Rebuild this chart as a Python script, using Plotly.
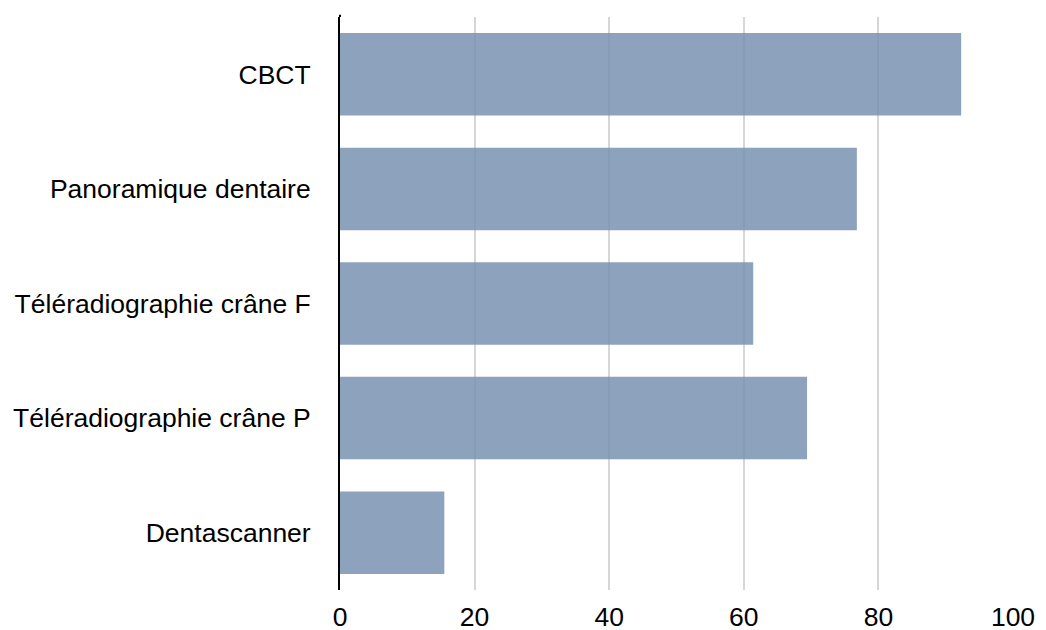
import plotly.graph_objects as go

categories = ["CBCT", "Panoramique dentaire", "Téléradiographie crâne F",
              "Téléradiographie crâne P", "Dentascanner"]
values = [92.3, 76.8, 61.4, 69.4, 15.5]
x_ticks = [0, 20, 40, 60, 80, 100]

font_family = "Helvetica, 'Liberation Sans', Arial, sans-serif"

fig = go.Figure(go.Bar(
    x=values,
    y=categories,
    orientation="h",
    marker=dict(color="rgba(121,146,176,0.85)", line=dict(width=0)),
    hoverinfo="x+y",
))

fig.update_layout(
    width=1046, height=630,
    margin=dict(l=340, r=33, t=17, b=40, autoexpand=False),
    paper_bgcolor="white", plot_bgcolor="white",
    bargap=0.28,
    showlegend=False,
    font=dict(family=font_family, size=26.5, color="black"),
)
fig.update_xaxes(
    range=[0, 100],
    tickvals=x_ticks,
    showgrid=True, gridcolor="#d6d6d6", gridwidth=1.5,
    zeroline=False, showline=False, ticks="",
    tickfont=dict(size=26.5, color="black"),
    ticklabelstandoff=8,
    automargin=False,
)
fig.update_yaxes(
    categoryorder="array", categoryarray=categories[::-1],
    showgrid=False, zeroline=False,
    showline=True, linecolor="black", linewidth=2,
    ticks="", ticklabelstandoff=22,
    tickfont=dict(size=26.5, color="black"),
    automargin=False,
)
# extend the axis line / grid slightly above the plot top like the reference
fig.add_shape(type="line", xref="paper", yref="paper", x0=0, x1=0, y0=1, y1=1.004,
              line=dict(color="black", width=2))

fig.write_html(
    "out.html",
    config={"displayModeBar": False},
    post_script="document.body.style.margin='0';document.body.style.overflow='hidden';",
)
